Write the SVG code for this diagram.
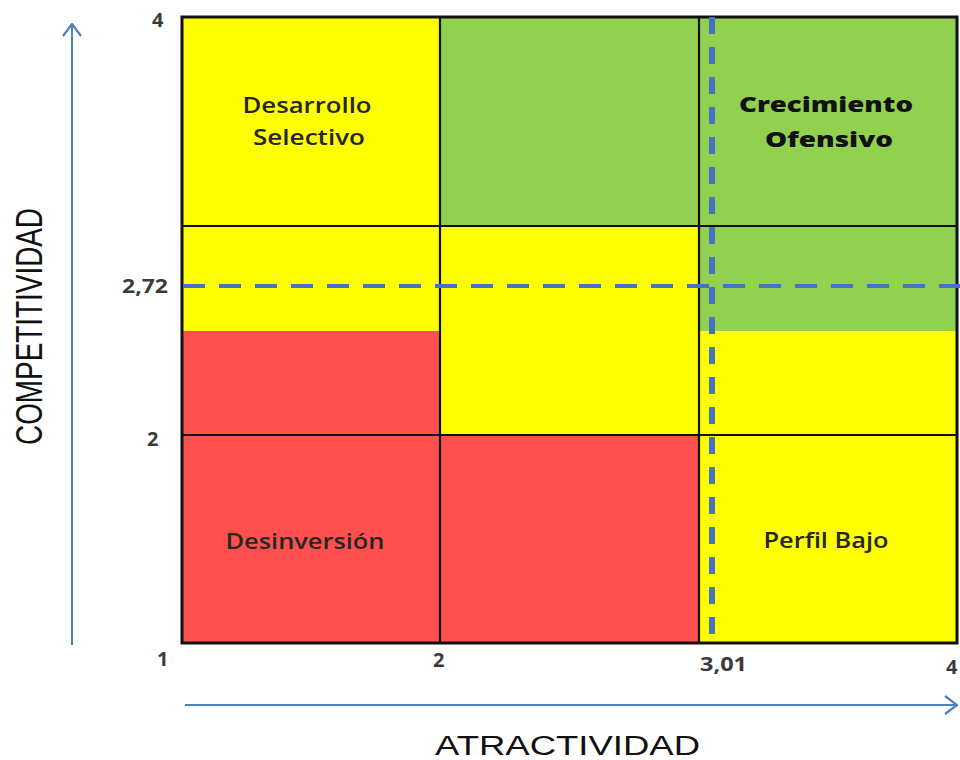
<svg xmlns="http://www.w3.org/2000/svg" width="960" height="760" viewBox="0 0 960 760">
  <style>
    .yellow { fill: #FFFF00; }
    .green { fill: #92D050; }
    .red { fill: #FF5050; }
    .grid { stroke: #111; stroke-width: 2.2; fill: none; }
    .frame { stroke: #111; stroke-width: 3; fill: none; }
    .cell { font-family: "Open Sans", "Liberation Sans", sans-serif; font-size: 21px; font-weight: 600; fill: #262626; text-anchor: middle; }
    .bold { font-weight: 800; fill: #111; }
    .tick { font-family: "Open Sans", "Liberation Sans", sans-serif; font-size: 20px; font-weight: 700; fill: #3a3a3a; }
    .axis-title { font-family: "Liberation Sans", Arial, sans-serif; fill: #111; }
    .axis { stroke: #4F81BD; stroke-width: 2; fill: none; }
    .guide { stroke: #4472C4; fill: none; }
  </style>
  <defs>
    <marker id="open-arrow" viewBox="0 0 14 20" refX="13" refY="10" markerWidth="14" markerHeight="20" markerUnits="userSpaceOnUse" orient="auto">
      <path d="M1,1 L13,10 L1,19" fill="none" stroke="#4F81BD" stroke-width="2.2"/>
    </marker>
  </defs>

  <rect width="960" height="760" fill="#fff"/>

  <!-- Matrix cells -->
  <g id="cell-desarrollo-selectivo">
    <rect class="yellow" x="182" y="17" width="258" height="209"/>
    <text class="cell" x="307" y="113" textLength="129" lengthAdjust="spacingAndGlyphs">Desarrollo</text>
    <text class="cell" x="309" y="145" textLength="112" lengthAdjust="spacingAndGlyphs">Selectivo</text>
  </g>
  <g id="cell-top-middle">
    <rect class="green" x="440" y="17" width="259" height="209"/>
  </g>
  <g id="cell-crecimiento-ofensivo">
    <rect class="green" x="699" y="17" width="258" height="209"/>
    <text class="cell bold" x="826" y="112" textLength="174" lengthAdjust="spacingAndGlyphs">Crecimiento</text>
    <text class="cell bold" x="829" y="147" textLength="128" lengthAdjust="spacingAndGlyphs">Ofensivo</text>
  </g>
  <g id="cell-middle-left">
    <rect class="yellow" x="182" y="226" width="258" height="105"/>
    <rect class="red" x="182" y="331" width="258" height="104"/>
  </g>
  <g id="cell-middle-center">
    <rect class="yellow" x="440" y="226" width="259" height="209"/>
  </g>
  <g id="cell-middle-right">
    <rect class="green" x="699" y="226" width="258" height="105"/>
    <rect class="yellow" x="699" y="331" width="258" height="104"/>
  </g>
  <g id="cell-desinversion">
    <rect class="red" x="182" y="435" width="258" height="208"/>
    <text class="cell" x="305" y="549" textLength="159" lengthAdjust="spacingAndGlyphs">Desinversión</text>
  </g>
  <g id="cell-bottom-middle">
    <rect class="red" x="440" y="435" width="259" height="208"/>
  </g>
  <g id="cell-perfil-bajo">
    <rect class="yellow" x="699" y="435" width="258" height="208"/>
    <text class="cell" x="826" y="548" textLength="125" lengthAdjust="spacingAndGlyphs">Perfil Bajo</text>
  </g>

  <!-- Grid lines -->
  <g id="grid">
    <line class="grid" x1="440" y1="17" x2="440" y2="643"/>
    <line class="grid" x1="699" y1="17" x2="699" y2="643"/>
    <line class="grid" x1="182" y1="226" x2="957" y2="226"/>
    <line class="grid" x1="182" y1="435" x2="957" y2="435"/>
    <rect class="frame" x="182" y="17" width="775" height="626"/>
  </g>

  <!-- Axes and threshold guides -->
  <g id="connectors">
    <line class="guide" x1="183" y1="286" x2="960" y2="286" stroke-width="4" stroke-dasharray="22 14"/>
    <line class="guide" x1="712" y1="17" x2="712" y2="643" stroke-width="6" stroke-dasharray="17 13"/>
    <line class="axis" x1="72" y1="645" x2="72" y2="24" marker-end="url(#open-arrow)"/>
    <line class="axis" x1="185" y1="705" x2="957" y2="705" marker-end="url(#open-arrow)"/>
  </g>

  <!-- Scale values -->
  <g id="ticks">
    <text class="tick" x="152" y="27">4</text>
    <text class="tick" x="122" y="293" textLength="46" lengthAdjust="spacingAndGlyphs">2,72</text>
    <text class="tick" x="147" y="446">2</text>
    <text class="tick" x="157" y="666">1</text>
    <text class="tick" x="433" y="667">2</text>
    <text class="tick" x="700" y="671" textLength="47" lengthAdjust="spacingAndGlyphs">3,01</text>
    <text class="tick" x="946" y="674">4</text>
  </g>

  <!-- Axis titles -->
  <g id="axis-titles">
    <text class="axis-title" x="435" y="755" font-size="27" textLength="265" lengthAdjust="spacingAndGlyphs">ATRACTIVIDAD</text>
    <text class="axis-title" transform="translate(42,445) rotate(-90)" x="0" y="0" font-size="37" textLength="237" lengthAdjust="spacingAndGlyphs">COMPETITIVIDAD</text>
  </g>
</svg>
